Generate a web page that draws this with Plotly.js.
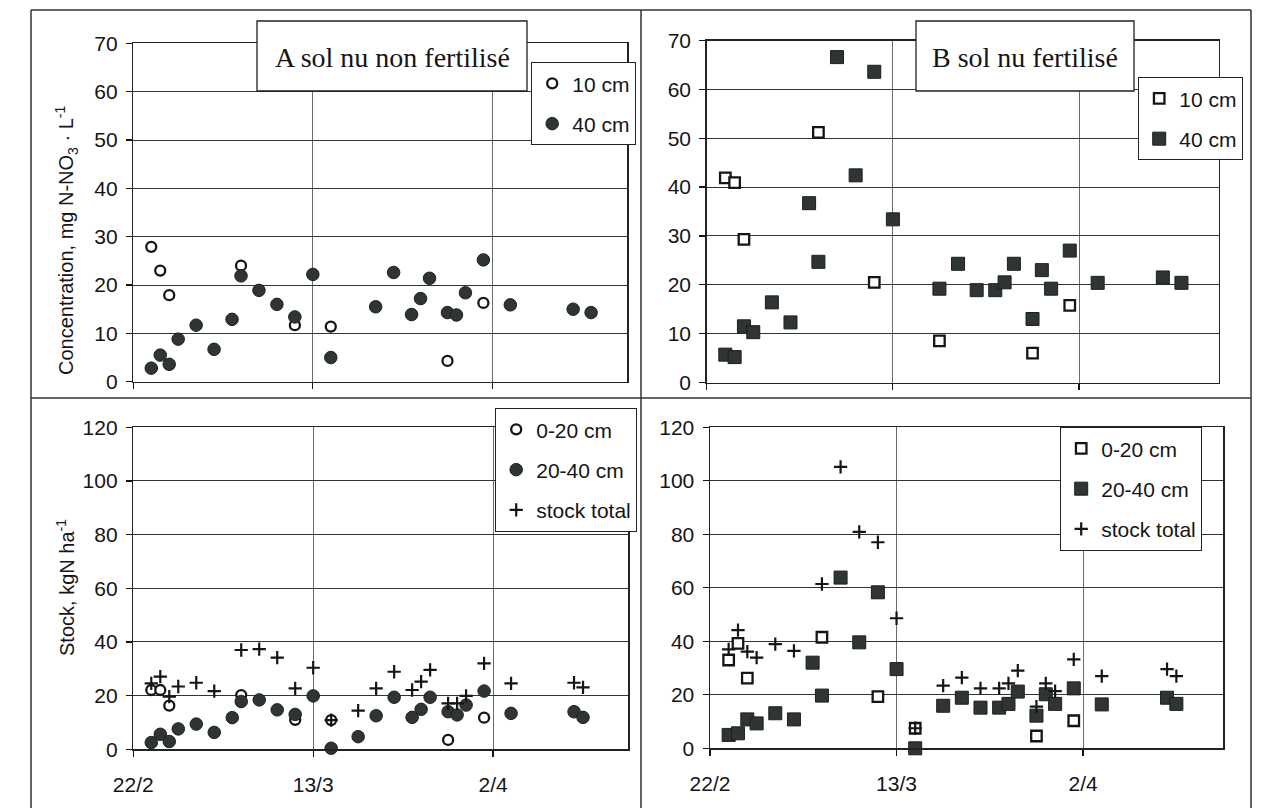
<!DOCTYPE html>
<html><head><meta charset="utf-8">
<script src="https://cdn.plot.ly/plotly-3.0.1.min.js"></script>
<style>html,body{margin:0;padding:0;background:#fff}#chart{width:1262px;height:808px}</style>
</head><body><div id="chart"></div>
<script>
// ---------- DATA ----------
// Panel A (sol nu non fertilisé) – concentration
const aConc10Dates = ['2000-02-24','2000-02-25','2000-02-26','2000-03-05','2000-03-11','2000-03-15','2000-03-28','2000-04-01'];
const aConc10 = [27.9, 23.0, 17.9, 24.0, 11.7, 11.4, 4.3, 16.3];
const aConc40Dates = ['2000-02-24','2000-02-25','2000-02-26','2000-02-27','2000-02-29','2000-03-02','2000-03-04','2000-03-05','2000-03-07','2000-03-09','2000-03-11','2000-03-13','2000-03-15','2000-03-20','2000-03-22','2000-03-24','2000-03-25','2000-03-26','2000-03-28','2000-03-29','2000-03-30','2000-04-01','2000-04-04','2000-04-11','2000-04-13'];
const aConc40 = [2.8, 5.5, 3.6, 8.8, 11.7, 6.7, 12.9, 21.9, 18.9, 16.0, 13.4, 22.2, 5.0, 15.5, 22.6, 13.9, 17.2, 21.4, 14.3, 13.8, 18.4, 25.2, 15.9, 15.0, 14.3];

// Panel B (sol nu fertilisé) – concentration
const bConc10Dates = ['2000-02-24','2000-02-25','2000-02-26','2000-03-05','2000-03-11','2000-03-18','2000-03-28','2000-04-01'];
const bConc10 = [41.9, 40.9, 29.3, 51.2, 20.5, 8.5, 6.0, 15.8];
const bConc40Dates = ['2000-02-24','2000-02-25','2000-02-26','2000-02-27','2000-02-29','2000-03-02','2000-03-04','2000-03-05','2000-03-07','2000-03-09','2000-03-11','2000-03-13','2000-03-18','2000-03-20','2000-03-22','2000-03-24','2000-03-25','2000-03-26','2000-03-28','2000-03-29','2000-03-30','2000-04-01','2000-04-04','2000-04-11','2000-04-13'];
const bConc40 = [5.7, 5.2, 11.5, 10.3, 16.4, 12.3, 36.7, 24.7, 66.6, 42.4, 63.6, 33.4, 19.2, 24.3, 18.9, 18.9, 20.5, 24.3, 13.0, 23.0, 19.2, 27.0, 20.4, 21.5, 20.4];

// Panel A – stock
const aStock020Dates = ['2000-02-24','2000-02-25','2000-02-26','2000-03-05','2000-03-11','2000-03-15','2000-03-28','2000-04-01'];
const aStock020 = [22.1, 22.1, 16.3, 20.2, 11.0, 10.9, 3.5, 11.8];
const aStock2040Dates = ['2000-02-24','2000-02-25','2000-02-26','2000-02-27','2000-02-29','2000-03-02','2000-03-04','2000-03-05','2000-03-07','2000-03-09','2000-03-11','2000-03-13','2000-03-15','2000-03-18','2000-03-20','2000-03-22','2000-03-24','2000-03-25','2000-03-26','2000-03-28','2000-03-29','2000-03-30','2000-04-01','2000-04-04','2000-04-11','2000-04-12'];
const aStock2040 = [2.5, 5.6, 2.9, 7.6, 9.4, 6.3, 11.8, 17.8, 18.4, 14.7, 13.0, 19.9, 0.4, 4.7, 12.5, 19.4, 11.9, 14.9, 19.4, 14.0, 12.8, 16.5, 21.7, 13.4, 14.0, 11.9];
const aStockTotDates = ['2000-02-24','2000-02-25','2000-02-26','2000-02-27','2000-02-29','2000-03-02','2000-03-05','2000-03-07','2000-03-09','2000-03-11','2000-03-13','2000-03-15','2000-03-18','2000-03-20','2000-03-22','2000-03-24','2000-03-25','2000-03-26','2000-03-28','2000-03-29','2000-03-30','2000-04-01','2000-04-04','2000-04-11','2000-04-12'];
const aStockTot = [24.6, 27.1, 19.6, 23.4, 24.8, 21.7, 37.0, 37.3, 34.2, 22.7, 30.4, 10.9, 14.4, 22.7, 28.9, 22.1, 25.2, 29.6, 17.1, 17.1, 19.9, 32.0, 24.6, 24.8, 23.1];

// Panel B – stock
const bStock020Dates = ['2000-02-24','2000-02-25','2000-02-26','2000-03-05','2000-03-11','2000-03-15','2000-03-28','2000-04-01'];
const bStock020 = [33.0, 39.2, 26.2, 41.5, 19.3, 7.5, 4.6, 10.3];
const bStock2040Dates = ['2000-02-24','2000-02-25','2000-02-26','2000-02-27','2000-02-29','2000-03-02','2000-03-04','2000-03-05','2000-03-07','2000-03-09','2000-03-11','2000-03-13','2000-03-15','2000-03-18','2000-03-20','2000-03-22','2000-03-24','2000-03-25','2000-03-26','2000-03-28','2000-03-29','2000-03-30','2000-04-01','2000-04-04','2000-04-11','2000-04-12'];
const bStock2040 = [5.0, 5.6, 10.8, 9.3, 13.1, 10.8, 32.0, 19.7, 63.8, 39.6, 58.3, 29.6, 0, 15.9, 18.9, 15.2, 15.2, 16.6, 21.2, 12.2, 20.2, 16.6, 22.4, 16.4, 18.9, 16.6];
const bStockTotDates = ['2000-02-24','2000-02-25','2000-02-26','2000-02-27','2000-02-29','2000-03-02','2000-03-05','2000-03-07','2000-03-09','2000-03-11','2000-03-13','2000-03-15','2000-03-18','2000-03-20','2000-03-22','2000-03-24','2000-03-25','2000-03-26','2000-03-28','2000-03-29','2000-03-30','2000-04-01','2000-04-04','2000-04-11','2000-04-12'];
const bStockTot = [37.0, 44.2, 36.1, 33.9, 38.9, 36.4, 61.4, 105.2, 80.9, 77.0, 48.6, 7.5, 23.4, 26.4, 22.4, 22.4, 24.3, 29.0, 15.6, 24.3, 21.4, 33.2, 27.0, 29.6, 27.0];

const concLabels = ['10 cm', '40 cm'];
const stockLabels = ['0-20 cm', '20-40 cm', 'stock total'];
const panelTitles = ['A sol nu non fertilisé', 'B sol nu fertilisé'];
const xRange = ['2000-02-22', '2000-04-17'];

// ---------- STYLE ----------
const W = 1262, H = 808;
const px = v => v / W;
const py = v => 1 - v / H;
const DARK = '#2f3535';
const INK = '#151515';
const FONT = 'Arial, "Liberation Sans", sans-serif';

function openM(sym) { return {symbol: sym, size: sym === 'circle' ? 10 : 10.5, color: '#fff', line: {color: INK, width: 2.3}}; }
function fillM(sym) { return {symbol: sym, size: sym === 'circle' ? 12.5 : 13, color: DARK, line: {color: '#1b1f1f', width: 1}}; }
const plusM = {symbol: 'cross-thin-open', size: 9.5, color: INK, line: {color: INK, width: 2.2}};

function tr(x, y, name, marker, xa, ya, leg, grp) {
  return {type: 'scatter', mode: 'markers', x: x, y: y, name: name, marker: marker,
    xaxis: xa, yaxis: ya, legend: leg, legendgroup: grp, cliponaxis: false, hoverinfo: 'skip'};
}

const data = [
  tr(aConc10Dates, aConc10, concLabels[0], openM('circle'), 'x', 'y', 'legend', 'a1'),
  tr(aConc40Dates, aConc40, concLabels[1], fillM('circle'), 'x', 'y', 'legend', 'a2'),
  tr(bConc10Dates, bConc10, concLabels[0], openM('square'), 'x2', 'y2', 'legend2', 'b1'),
  tr(bConc40Dates, bConc40, concLabels[1], fillM('square'), 'x2', 'y2', 'legend2', 'b2'),
  tr(aStock020Dates, aStock020, stockLabels[0], openM('circle'), 'x3', 'y3', 'legend3', 'c1'),
  tr(aStock2040Dates, aStock2040, stockLabels[1], fillM('circle'), 'x3', 'y3', 'legend3', 'c2'),
  tr(aStockTotDates, aStockTot, stockLabels[2], plusM, 'x3', 'y3', 'legend3', 'c3'),
  tr(bStock020Dates, bStock020, stockLabels[0], openM('square'), 'x4', 'y4', 'legend4', 'd1'),
  tr(bStock2040Dates, bStock2040, stockLabels[1], fillM('square'), 'x4', 'y4', 'legend4', 'd2'),
  tr(bStockTotDates, bStockTot, stockLabels[2], plusM, 'x4', 'y4', 'legend4', 'd3')
];

function xax(l, r, anchor, labels) {
  return {type: 'date', domain: [px(l), px(r)], anchor: anchor, range: xRange,
    tick0: '2000-02-22', dtick: 20 * 86400000, tickformat: '%-d/%-m',
    showticklabels: labels, ticks: 'outside', ticklen: 6, tickwidth: 1.2, tickcolor: INK,
    showgrid: true, gridcolor: '#6a6a6a', gridwidth: 1,
    showline: true, mirror: true, linecolor: '#222', linewidth: 1.5, zeroline: false,
    tickfont: {family: FONT, size: 21, color: INK}, ticklabelstandoff: 10, fixedrange: true};
}
function yax(top, bot, anchor, max, dt) {
  return {domain: [py(bot), py(top)], anchor: anchor, range: [0, max], dtick: dt, tick0: 0,
    ticks: 'outside', ticklen: 6, tickwidth: 1.2, tickcolor: INK,
    showgrid: true, gridcolor: '#333', gridwidth: 1,
    showline: true, mirror: true, linecolor: '#222', linewidth: 1.5, zeroline: false,
    tickfont: {family: FONT, size: 21, color: INK}, ticklabelstandoff: 4, fixedrange: true};
}
function leg(right, top) {
  return {x: px(right), y: py(top), xanchor: 'right', yanchor: 'top', xref: 'paper', yref: 'paper',
    bgcolor: '#fff', bordercolor: '#222', borderwidth: 1.2,
    font: {family: FONT, size: 21, color: INK}, traceorder: 'grouped', tracegroupgap: 10,
    itemwidth: 30};
}
function line(x0, y0, x1, y1) {
  return {type: 'line', xref: 'paper', yref: 'paper', x0: px(x0), y0: py(y0), x1: px(x1), y1: py(y1),
    line: {color: '#333', width: 1.5}, layer: 'above'};
}
function box(l, t, r, b) {
  return {type: 'rect', xref: 'paper', yref: 'paper', x0: px(l), y0: py(b), x1: px(r), y1: py(t),
    fillcolor: '#fff', line: {color: '#222', width: 1.3}, layer: 'above'};
}

const layout = {
  width: W, height: H, margin: {l: 0, r: 0, t: 0, b: 0, autoexpand: false},
  paper_bgcolor: '#fff', plot_bgcolor: '#fff', showlegend: true,
  font: {family: FONT, color: INK},
  xaxis: xax(133.3, 627, 'y', false),
  yaxis: yax(43.4, 381.7, 'x', 70, 10),
  xaxis2: xax(706.7, 1218.7, 'y2', false),
  yaxis2: yax(40.5, 382.5, 'x2', 70, 10),
  xaxis3: xax(133.3, 628, 'y3', true),
  yaxis3: yax(427.3, 749.3, 'x3', 120, 20),
  xaxis4: xax(710, 1223, 'y4', true),
  yaxis4: yax(427.2, 748.3, 'x4', 120, 20),
  legend: leg(636, 62),
  legend2: leg(1243, 77),
  legend3: leg(637, 408),
  legend4: leg(1202, 427),
  shapes: [
    line(31, 10, 31, 808), line(31, 10, 1251, 10), line(1251, 10, 1251, 808),
    line(641, 10, 641, 808), line(31, 398, 1251, 398),
    box(257, 21, 527, 91), box(916, 21, 1134, 91)
  ],
  annotations: [
    {text: panelTitles[0], xref: 'paper', yref: 'paper', x: px(392), y: py(58), xanchor: 'center', yanchor: 'middle',
      showarrow: false, font: {family: '"Liberation Serif", "Times New Roman", serif', size: 28, color: INK}},
    {text: panelTitles[1], xref: 'paper', yref: 'paper', x: px(1025), y: py(58), xanchor: 'center', yanchor: 'middle',
      showarrow: false, font: {family: '"Liberation Serif", "Times New Roman", serif', size: 28, color: INK}},
    {text: 'Concentration, mg N-NO<sub>3</sub> · L<sup>-1</sup>', xref: 'paper', yref: 'paper', x: px(67), y: py(241),
      xanchor: 'center', yanchor: 'middle', textangle: -90, showarrow: false, font: {family: FONT, size: 20, color: INK}},
    {text: 'Stock, kgN ha<sup>-1</sup>', xref: 'paper', yref: 'paper', x: px(65), y: py(588),
      xanchor: 'center', yanchor: 'middle', textangle: -90, showarrow: false, font: {family: FONT, size: 20, color: INK}}
  ]
};

Plotly.newPlot('chart', data, layout, {displayModeBar: false, staticPlot: true});
</script></body></html>
